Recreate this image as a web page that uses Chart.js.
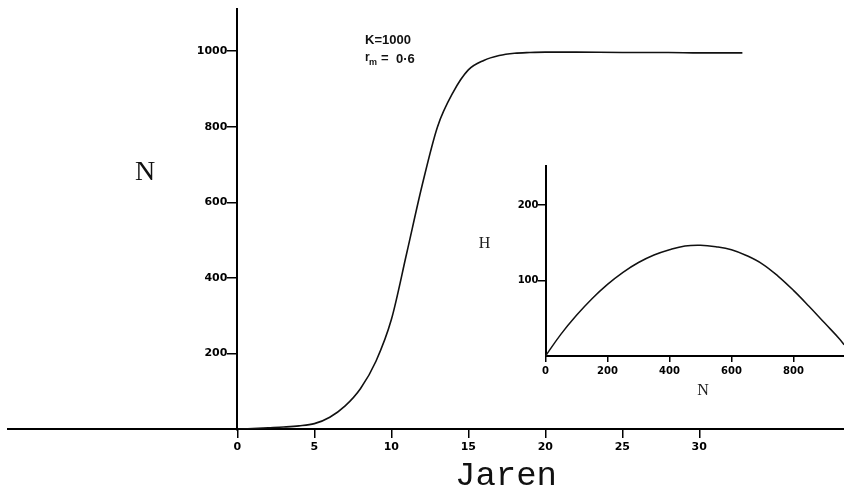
<!DOCTYPE html>
<html>
<head>
<meta charset="utf-8">
<script src="https://cdn.jsdelivr.net/npm/chart.js@4.4.1/dist/chart.umd.min.js"></script>
<style>
  html, body { margin: 0; padding: 0; background: #fff; }
  #wrap { position: relative; width: 844px; height: 488px; overflow: hidden; background: #fff; }
  #main { position: absolute; left: 0; top: 0; }
  #inset { position: absolute; left: 470px; top: 150px; }
</style>
</head>
<body>
<div id="wrap">
  <canvas id="main" width="844" height="488"></canvas>
  <canvas id="inset" width="374" height="250"></canvas>
</div>
<script>
// ---- main chart data: logistic growth, K=1000, r_m=0.6 ----
const years = [0, 1, 2, 3, 4, 5, 6, 7, 8, 9, 10, 11, 12, 13, 14, 15, 16, 17, 18, 19, 20, 22, 25, 28, 30, 32.8];
const population = [0, 2, 4, 6, 9, 15, 32, 62, 108, 180, 290, 466, 645, 800, 890, 950, 975, 988, 994, 996, 997, 997, 996, 996, 995, 995];
const xTickValues = [0, 5, 10, 15, 20, 25, 30];
const yTickValues = [200, 400, 600, 800, 1000];

// ---- inset data: harvest H against N ----
const insetN = [0, 50, 100, 150, 200, 250, 300, 350, 400, 450, 500, 550, 600, 650, 700, 750, 800, 850, 900, 950, 963];
const insetH = [0, 29, 54, 76, 95, 111, 124, 134, 141, 146, 147, 145, 141, 133, 122, 106, 87, 66, 44, 22, 15];
const insetXTicks = [0, 200, 400, 600, 800];
const insetYTicks = [100, 200];

const BLACK = '#000';
const tickFontMain = { family: 'DejaVu Sans', weight: 'bold', size: 11 };
const tickFontInset = { family: 'DejaVu Sans', weight: 'bold', size: 10 };

function fixedTicks(values) {
  return function (scale) { scale.ticks = values.map(v => ({ value: v })); };
}
function plainLabel(v) { return String(v); }

// y axes placed at x=0 draw their labels on the axis line; move them left of the tick marks
function shiftYLabels(dx) {
  return function (scale) {
    if (scale._labelShiftDone) return;
    const orig = scale._computeLabelItems;
    scale._computeLabelItems = function (ca) {
      const items = orig.call(this, ca);
      items.forEach(it => { it.options.translation[0] -= dx; });
      return items;
    };
    scale._labelItems = null;
    scale._labelShiftDone = true;
  };
}

const mainLabels = {
  id: 'mainLabels',
  afterDraw(chart) {
    const c = chart.ctx;
    c.save();
    c.fillStyle = '#111';
    c.textBaseline = 'alphabetic';
    c.font = '28px "Liberation Serif"';
    c.textAlign = 'center';
    c.fillText('N', 145, 180);
    c.font = '34px "Liberation Mono"';
    c.textAlign = 'left';
    c.fillText('Jaren', 455, 485);
    c.font = 'bold 13px "Liberation Sans"';
    c.fillText('K=1000', 365, 44);
    c.font = 'bold 12px "Liberation Sans"';
    c.fillText('r', 365, 61);
    c.font = 'bold 9px "Liberation Sans"';
    c.fillText('m', 369, 65);
    c.font = 'bold 13px "Liberation Sans"';
    c.fillText('=', 381, 62);
    c.fillText('0\u00B76', 396, 63);
    c.restore();
  }
};

const insetLabels = {
  id: 'insetLabels',
  afterDraw(chart) {
    const c = chart.ctx;
    c.save();
    c.fillStyle = '#222';
    c.textAlign = 'center';
    c.textBaseline = 'alphabetic';
    c.font = '16px "Liberation Serif"';
    c.fillText('H', 484.5 - 470, 248 - 150);
    c.fillText('N', 703 - 470, 395 - 150);
    c.restore();
  }
};

new Chart(document.getElementById('main'), {
  type: 'line',
  data: {
    datasets: [{
      data: years.map((t, i) => ({ x: t, y: population[i] })),
      borderColor: '#111',
      borderWidth: 1.6,
      pointRadius: 0,
      fill: false,
      cubicInterpolationMode: 'monotone'
    }]
  },
  options: {
    responsive: false,
    animation: false,
    devicePixelRatio: 1,
    layout: { padding: { left: 8, right: 0, top: 9, bottom: 58.7 } },
    plugins: { legend: { display: false }, tooltip: { enabled: false } },
    scales: {
      x: {
        type: 'linear',
        position: { y: 0 },
        min: -14.9,
        max: 39.4,
        afterBuildTicks: fixedTicks(xTickValues),
        grid: { drawOnChartArea: false, drawTicks: true, tickLength: 8, color: BLACK, lineWidth: 1.5 },
        border: { display: true, color: BLACK, width: 2 },
        ticks: { font: tickFontMain, color: BLACK, padding: 3, maxRotation: 0, autoSkip: false, callback: plainLabel }
      },
      y: {
        type: 'linear',
        position: { x: 0 },
        min: 0,
        max: 1111,
        afterBuildTicks: fixedTicks(yTickValues),
        afterUpdate: shiftYLabels(10),
        grid: { drawOnChartArea: false, drawTicks: true, tickLength: 9, color: BLACK, lineWidth: 1.5 },
        border: { display: true, color: BLACK, width: 2 },
        ticks: { font: tickFontMain, color: BLACK, padding: 1, autoSkip: false, callback: plainLabel }
      }
    }
  },
  plugins: [mainLabels]
});

new Chart(document.getElementById('inset'), {
  type: 'line',
  data: {
    datasets: [{
      data: insetN.map((n, i) => ({ x: n, y: insetH[i] })),
      borderColor: '#111',
      borderWidth: 1.5,
      pointRadius: 0,
      fill: false,
      tension: 0.4
    }]
  },
  options: {
    responsive: false,
    animation: false,
    devicePixelRatio: 1,
    layout: { padding: { left: 75.5, right: 0, top: 16, bottom: 44 } },
    plugins: { legend: { display: false }, tooltip: { enabled: false } },
    scales: {
      x: {
        type: 'linear',
        position: { y: 0 },
        min: 0,
        max: 963,
        afterBuildTicks: fixedTicks(insetXTicks),
        grid: { drawOnChartArea: false, drawTicks: true, tickLength: 5, color: BLACK, lineWidth: 1.5 },
        border: { display: true, color: BLACK, width: 2 },
        ticks: { font: tickFontInset, color: BLACK, padding: 4, maxRotation: 0, autoSkip: false, callback: plainLabel }
      },
      y: {
        type: 'linear',
        position: { x: 0 },
        min: 0,
        max: 252,
        afterBuildTicks: fixedTicks(insetYTicks),
        afterUpdate: shiftYLabels(7),
        grid: { drawOnChartArea: false, drawTicks: true, tickLength: 7, color: BLACK, lineWidth: 1.5 },
        border: { display: true, color: BLACK, width: 2 },
        ticks: { font: tickFontInset, color: BLACK, padding: 1, autoSkip: false, callback: plainLabel }
      }
    }
  },
  plugins: [insetLabels]
});
</script>
</body>
</html>
